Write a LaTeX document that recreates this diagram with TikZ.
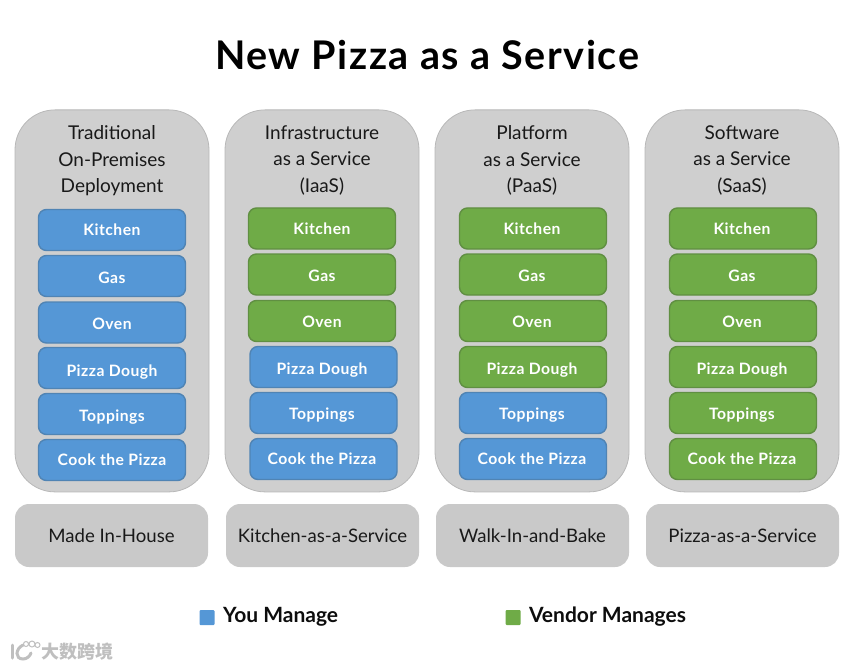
\documentclass[tikz,border=0pt]{standalone}
\usepackage{fontspec}
\setmainfont{Lato}
\newfontfamily\cjkwm{Noto Sans CJK SC}
\definecolor{panelgray}{HTML}{CFCFCF}
\definecolor{paneledge}{HTML}{B8B8B8}
\definecolor{bluefill}{HTML}{5597D6}
\definecolor{blueedge}{HTML}{5084B4}
\definecolor{greenfill}{HTML}{6FAB47}
\definecolor{greenedge}{HTML}{608F42}
\tikzset{
  panel/.style={draw=paneledge,line width=.8pt,fill=panelgray,rounded corners=40pt,minimum width=194pt,minimum height=382pt,inner sep=0pt,anchor=north},
  foot/.style={fill=panelgray!97!black,rounded corners=14pt,minimum width=193pt,minimum height=63pt,inner sep=0pt,font=\fontsize{18.6}{22}\selectfont,text=black!90},
  head/.style={align=center,font=\fontsize{19}{26.5}\selectfont,text=black!90,anchor=north},
  task/.style={rounded corners=8pt,minimum width=147pt,minimum height=41pt,inner sep=0pt,line width=1.4pt,text=white,text height=14pt,text depth=2pt,font=\fontsize{15.7}{18}\bfseries\addfontfeature{LetterSpace=3}\selectfont},
  you/.style={task,fill=bluefill,draw=blueedge},
  ven/.style={task,fill=greenfill,draw=greenedge},
  swatch/.style={minimum size=15pt,inner sep=0pt,rounded corners=1pt},
  legend/.style={anchor=west,font=\fontsize{21}{24}\bfseries\selectfont,text=black!95}
}
\newcommand{\shiftA}{\kern2pt}
\newcommand{\shiftB}{\kern3pt}
\newcommand{\dropT}[2]{\raisebox{-#1pt}{#2}}
\begin{document}
\begin{tikzpicture}[x=1pt,y=-1pt]
\useasboundingbox (0,0) rectangle (850,668);
\node[anchor=center,font=\fontsize{39.5}{48}\bfseries\addfontfeature{LetterSpace=4}\selectfont] (title) at (427,55) {New Pizza as a Service};
% panels
\node[panel] (p1) at (112,109.5) {};
\node[panel] (p2) at (322,109.5) {};
\node[panel] (p3) at (532,109.5) {};
\node[panel] (p4) at (742,109.5) {};
\node[head] (h1) at (112,122) {Traditional\\On-Premises\\Deployment};
\node[head] (h2) at (322,122) {Infrastructure\\as a Service\\(IaaS)};
\node[head] (h3) at (532,122) {Platform\\as a Service\\(PaaS)};
\node[head] (h4) at (742,122) {Software\\as a Service\\(SaaS)};
% column 1
\node[you] (a1) at (112,230) {Kitchen};
\node[you] (a2) at (112,276) {\dropT{1}{Gas}};
\node[you] (a3) at (112,322.5) {\dropT{.5}{Oven}};
\node[you] (a4) at (112,368) {\dropT{2}{Pizza Dough}};
\node[you] (a5) at (112,414) {\dropT{1}{Toppings}};
\node[you] (a6) at (112,460) {\dropT{-.5}{Cook the Pizza}};
% column 2
\node[ven] (b1) at (322,228.5) {Kitchen};
\node[ven] (b2) at (322,274.5) {\dropT{.5}{Gas}};
\node[ven] (b3) at (322,321) {\dropT{.5}{Oven}};
\node[you] (b4) at (323.5,367) {\dropT{1}{Pizza Dough}\shiftB};
\node[you] (b5) at (323.5,413) {Toppings\shiftB};
\node[you] (b6) at (323.5,459) {\dropT{-.5}{Cook the Pizza}\shiftB};
% column 3
\node[ven] (c1) at (533,228.5) {Kitchen\shiftA};
\node[ven] (c2) at (533,274.5) {\dropT{.5}{Gas}\shiftA};
\node[ven] (c3) at (533,321) {\dropT{.5}{Oven}\shiftA};
\node[ven] (c4) at (533,367) {\dropT{1}{Pizza Dough}\shiftA};
\node[you] (c5) at (533,413) {Toppings\shiftA};
\node[you] (c6) at (533,459) {\dropT{-.5}{Cook the Pizza}\shiftA};
% column 4
\node[ven] (d1) at (743,228.5) {Kitchen\shiftA};
\node[ven] (d2) at (743,274.5) {\dropT{.5}{Gas}\shiftA};
\node[ven] (d3) at (743,321) {\dropT{.5}{Oven}\shiftA};
\node[ven] (d4) at (743,367) {\dropT{1}{Pizza Dough}\shiftA};
\node[ven] (d5) at (743,413) {Toppings\shiftA};
\node[ven] (d6) at (743,459) {\dropT{-.5}{Cook the Pizza}\shiftA};
% footers
\node[foot] (f1) at (111.5,535.5) {Made In-House};
\node[foot] (f2) at (322.5,535.5) {Kitchen-as-a-Service};
\node[foot] (f3) at (532.5,535.5) {Walk-In-and-Bake};
\node[foot] (f4) at (742.5,535.5) {Pizza-as-a-Service};
% legend
\node[swatch,fill=bluefill] (s1) at (207,617.5) {};
\node[legend] (l1) at (219.5,617) {You Manage};
\node[swatch,fill=greenfill] (s2) at (513,617.5) {};
\node[legend] (l2) at (525.5,617) {Vendor Manages};
% watermark
\node[anchor=west,inner sep=0pt,text=black!25,font=\fontsize{18}{20}\cjkwm\bfseries\selectfont] (wm) at (41,652) {大数跨境};
\draw[black!25,line width=3pt,line cap=round] (12,645) -- (12,658);
\draw[black!25,line width=3pt,line cap=round] (23,645) .. controls (15,649) and (15,659) .. (23,659) .. controls (27,659) and (30,656) .. (31,653);
\draw[black!25,line width=1pt] (26,644) circle (2.5pt) (32,644) circle (3pt) (37.5,645) circle (2.5pt);
\end{tikzpicture}
\end{document}
